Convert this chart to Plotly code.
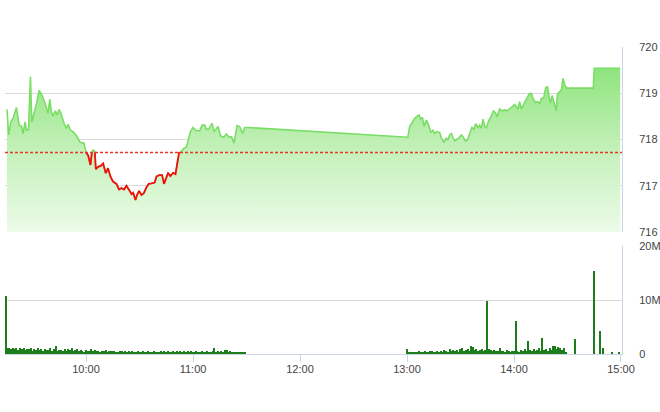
import pandas as pd
import plotly.graph_objects as go

DAY = "2024-01-02 "
REF_PRICE = 717.72

price_times = [
    "09:15:40", "09:16:40", "09:17:50", "09:19:05", "09:21:00", "09:22:30", "09:23:50", "09:24:40",
    "09:25:50", "09:26:35", "09:27:45", "09:28:50", "09:29:35", "09:30:20", "09:32:15", "09:33:40",
    "09:35:00", "09:36:30", "09:37:50", "09:38:45", "09:39:40", "09:40:35", "09:41:30", "09:42:50",
    "09:43:45", "09:44:55", "09:46:15", "09:47:40", "09:49:00", "09:50:00", "09:51:15", "09:52:45",
    "09:54:40", "09:56:30", "09:58:00", "09:58:45", "09:59:50",
    "10:00:25", "10:01:10", "10:02:30", "10:03:15", "10:03:55", "10:04:55", "10:05:30", "10:06:45",
    "10:08:15", "10:09:35", "10:11:05", "10:12:20", "10:13:40", "10:15:10", "10:17:05", "10:18:30",
    "10:19:50", "10:21:20", "10:22:40", "10:24:10", "10:25:30", "10:26:25", "10:27:45", "10:28:35",
    "10:29:45", "10:31:05", "10:32:25", "10:33:55", "10:35:10", "10:36:40", "10:38:30", "10:39:30",
    "10:41:00", "10:42:40", "10:43:45", "10:45:05", "10:46:00", "10:47:20", "10:48:50", "10:50:10",
    "10:51:05", "10:52:10", "10:53:30",
    "10:54:50", "10:56:20", "10:57:25", "10:58:35", "11:00:00", "11:01:55", "11:03:45", "11:05:05",
    "11:06:35", "11:07:30", "11:09:00", "11:10:40", "11:11:50", "11:13:10", "11:14:00", "11:15:25",
    "11:17:15", "11:18:45", "11:20:10", "11:21:35", "11:23:00", "11:24:40", "11:26:10", "11:27:45",
    "11:29:00", "11:30:00",
    "13:00:00", "13:00:30", "13:01:30", "13:02:50", "13:04:20", "13:05:50", "13:06:45", "13:07:40",
    "13:08:40", "13:09:30", "13:10:55", "13:12:10", "13:13:20", "13:14:35", "13:15:30", "13:16:50",
    "13:18:20", "13:19:20", "13:20:45", "13:22:05", "13:23:00", "13:23:55", "13:24:55", "13:25:50",
    "13:26:45", "13:27:50", "13:29:00", "13:30:30", "13:31:25", "13:32:45", "13:33:50", "13:35:10",
    "13:36:25", "13:37:35", "13:38:30", "13:39:50", "13:40:45", "13:41:45", "13:42:35", "13:43:35",
    "13:44:30", "13:45:50", "13:47:20", "13:48:25", "13:49:35", "13:50:30", "13:52:00", "13:53:30",
    "13:54:45", "13:56:05", "13:57:35", "13:59:05", "14:00:25", "14:01:20", "14:02:15", "14:03:10",
    "14:04:10", "14:05:25", "14:06:55", "14:08:25", "14:09:45", "14:10:40", "14:12:00", "14:13:10",
    "14:14:25", "14:15:20", "14:16:40", "14:17:45", "14:18:45", "14:19:40", "14:20:25", "14:21:20",
    "14:22:50", "14:23:45", "14:24:20", "14:25:40", "14:26:35", "14:27:30", "14:28:25", "14:29:45",
    "14:44:30", "14:45:00", "14:59:30",
]
price_values = [
    718.65, 718.10, 718.38, 718.46, 718.69, 718.31, 718.29, 718.12,
    718.38, 718.20, 718.22, 719.36, 718.38, 718.49, 718.78, 719.06,
    718.98, 718.84, 718.70, 718.57, 718.87, 718.60, 718.51, 718.62,
    718.53, 718.65, 718.53, 718.35, 718.24, 718.33, 718.20, 718.17,
    718.08, 717.95, 717.92, 717.93, 717.76,
    717.69, 717.66, 717.45, 717.71, 717.77, 717.74, 717.36, 717.41,
    717.43, 717.48, 717.27, 717.38, 717.20, 717.09, 717.04, 716.92,
    716.95, 716.92, 717.00, 716.91, 716.82, 716.85, 716.69, 716.80,
    716.89, 716.80, 716.84, 716.97, 717.04, 717.05, 717.07, 717.20,
    717.23, 717.23, 717.04, 717.18, 717.27, 717.21, 717.28, 717.25,
    717.48, 717.71, 717.74,
    717.81, 717.84, 717.99, 718.17, 718.26, 718.19, 718.19, 718.31,
    718.31, 718.22, 718.23, 718.35, 718.17, 718.23, 718.28, 718.08,
    718.05, 718.12, 718.05, 718.06, 717.92, 718.30, 718.28, 718.13,
    718.26, 718.26,
    718.05, 718.05, 718.28, 718.38, 718.46, 718.51, 718.53, 718.44,
    718.48, 718.29, 718.42, 718.31, 718.15, 718.20, 718.13, 718.17,
    718.15, 718.03, 717.94, 718.03, 717.99, 718.10, 718.13, 718.03,
    717.97, 718.00, 718.03, 718.10, 718.06, 717.97, 717.99, 718.13,
    718.26, 718.22, 718.34, 718.26, 718.31, 718.24, 718.44, 718.28,
    718.26, 718.41, 718.51, 718.62, 718.58, 718.49, 718.66, 718.62,
    718.64, 718.62, 718.66, 718.71, 718.76, 718.71, 718.66, 718.82,
    718.66, 718.76, 718.89, 718.98, 719.00, 718.89, 718.80, 718.82,
    718.78, 718.89, 718.90, 719.12, 719.14, 718.96, 718.78, 718.95,
    718.76, 718.62, 718.98, 719.03, 719.07, 719.32, 719.18, 719.11,
    719.11, 719.54, 719.54,
]

# Volume (millions of shares), one bar per minute
vol_am_start = "09:15"
vol_am = [
    10.8, 1.1, 1.2, 0.9, 1.2, 1.0, 1.2, 0.8, 1.1, 0.9,
    1.1, 0.7, 1.0, 0.9, 1.2, 0.6, 0.9, 0.8, 1.1, 0.7,
    0.9, 0.6, 1.0, 0.8, 0.7, 1.1, 0.6, 0.9, 1.5, 0.6,
    0.7, 0.8, 0.5, 0.9, 0.6, 1.0, 0.7, 1.1, 0.6, 0.8,
    0.9, 0.5, 0.7, 0.6, 0.4, 0.8, 0.6, 0.5, 0.9, 0.6,
    0.7, 0.5, 0.6, 0.4, 0.6, 0.5, 0.7, 0.4, 0.6, 0.5,
    0.5, 0.6, 0.4, 0.3, 0.5, 0.6, 0.3, 0.5, 0.4, 0.6,
    0.3, 0.5, 0.4, 0.3, 0.6, 0.4, 0.3, 0.5, 0.4, 0.3,
    0.5, 0.3, 0.4, 0.6, 0.3, 0.4, 0.3, 0.5, 0.4, 0.6,
    0.3, 0.5, 0.4, 0.3, 0.6, 0.4, 0.5, 0.3, 0.6, 0.4,
    0.5, 0.4, 0.6, 0.3, 0.5, 0.4, 0.3, 0.5, 0.4, 0.3,
    0.5, 0.4, 0.3, 0.6, 0.4, 0.3, 0.5, 1.2, 0.4, 0.6,
    0.3, 0.5, 0.4, 0.7, 0.8, 0.3, 0.5, 0.3, 0.4, 0.3,
    0.3, 0.2, 0.3, 0.2, 0.3,
]
vol_pm_start = "13:00"
vol_pm = [
    1.0, 0.3, 0.2, 0.3, 0.2, 0.4, 0.3, 0.5, 0.4, 0.3,
    0.6, 0.4, 0.3, 0.5, 0.6, 0.4, 0.3, 0.5, 0.3, 0.6,
    0.4, 0.7, 0.5, 0.3, 0.9, 0.6, 0.8, 0.5, 0.7, 0.4,
    0.9, 1.1, 0.6, 0.8, 1.0, 0.5, 1.5, 1.3, 0.7, 1.0,
    0.6, 0.8, 1.0, 0.5, 0.7, 9.8, 0.9, 0.8, 0.6, 0.7,
    0.5, 0.6, 1.2, 0.5, 0.6, 0.4, 0.7, 0.5, 0.3, 0.6,
    0.5, 6.2, 0.6, 0.4, 0.7, 0.5, 0.9, 0.6, 2.4, 0.8,
    0.6, 1.0, 0.5, 0.8, 1.1, 0.6, 3.0, 0.7, 1.0, 0.6,
    1.2, 0.8, 1.4, 1.5, 0.9, 1.3, 1.1, 0.7, 1.2, 0.4,
]
vol_late_times = ["14:34", "14:45", "14:48", "14:50", "14:55", "14:59"]
vol_late = [2.7, 15.4, 4.3, 1.2, 0.2, 0.3]

price_ticks = [716, 717, 718, 719, 720]
vol_ticks = [0, 10, 20]
vol_tick_text = ["0", "10M", "20M"]
hour_ticks = ["10:00", "11:00", "12:00", "13:00", "14:00", "15:00"]

# ---------- build ----------
ts = [pd.Timestamp(DAY + t) for t in price_times]
n = len(ts)

red_x, red_y = [], []
for i in range(n):
    p = price_values[i]
    if p < REF_PRICE:
        if i > 0 and price_values[i - 1] >= REF_PRICE:
            p0 = price_values[i - 1]
            f = (p0 - REF_PRICE) / (p0 - p)
            red_x.append(ts[i - 1] + (ts[i] - ts[i - 1]) * f)
            red_y.append(REF_PRICE)
        red_x.append(ts[i])
        red_y.append(p)
        if i < n - 1 and price_values[i + 1] >= REF_PRICE:
            p1 = price_values[i + 1]
            f = (REF_PRICE - p) / (p1 - p)
            red_x.append(ts[i] + (ts[i + 1] - ts[i]) * f)
            red_y.append(REF_PRICE)
            red_x.append(None)
            red_y.append(None)

vol_x = (list(pd.date_range(DAY + vol_am_start, periods=len(vol_am), freq="min"))
         + list(pd.date_range(DAY + vol_pm_start, periods=len(vol_pm), freq="min"))
         + [pd.Timestamp(DAY + t) for t in vol_late_times])
vol_y = vol_am + vol_pm + vol_late

x_range = [DAY + "09:14:34", DAY + "15:00:34"]
FONT = "Liberation Sans Narrow, Arial Narrow, Liberation Sans, Arial, sans-serif"
AXIS_BLUE = "#c9d6e6"
GRID = "#d9d9d9"

fig = go.Figure()

fig.add_trace(go.Scatter(
    x=ts, y=price_values, xaxis="x2", yaxis="y2", mode="lines",
    line=dict(color="#7ade66", width=1.6),
    fill="tozeroy",
    fillgradient=dict(type="vertical", start=716, stop=719.6,
                      colorscale=[[0, "rgba(236,251,233,1)"], [0.5, "rgba(196,241,186,1)"],
                                  [1, "rgba(142,228,124,1)"]]),
    hoverinfo="skip", showlegend=False,
))
fig.add_trace(go.Scatter(
    x=red_x, y=red_y, xaxis="x2", yaxis="y2", mode="lines",
    line=dict(color="#f50d0d", width=1.8), connectgaps=False,
    hoverinfo="skip", showlegend=False,
))
fig.add_trace(go.Bar(
    x=vol_x, y=vol_y, xaxis="x", yaxis="y",
    marker=dict(color="#1d7d1d", line=dict(width=0)),
    width=40000, hoverinfo="skip", showlegend=False,
))

fig.add_shape(type="line", xref="x2 domain", yref="y2", x0=0, x1=1,
              y0=REF_PRICE, y1=REF_PRICE,
              line=dict(color="#e8352a", width=1.5, dash="3px,2px"), layer="above")

PRICE_TOP = 1.0
PRICE_BOT = 1 - 185 / 307
VOL_TOP = 108 / 307

fig.update_layout(
    width=660, height=412,
    margin=dict(l=5, r=38, t=47, b=58, autoexpand=False),
    paper_bgcolor="white", plot_bgcolor="white",
    font=dict(family=FONT, size=11, color="#444"),
    bargap=0,
    xaxis=dict(
        type="date", range=x_range, domain=[0, 1], anchor="y", automargin=False,
        tickvals=[DAY + h for h in hour_ticks], ticktext=hour_ticks,
        ticks="outside", ticklen=7, tickcolor=AXIS_BLUE, tickwidth=1, ticklabelstandoff=-2,
        showline=True, linecolor=AXIS_BLUE, linewidth=1,
        showgrid=False, zeroline=False, fixedrange=True,
    ),
    xaxis2=dict(
        type="date", range=x_range, domain=[0, 1], anchor="y2", matches="x", automargin=False,
        showticklabels=False, showgrid=False, zeroline=False, showline=False, ticks="",
    ),
    yaxis=dict(
        domain=[0, VOL_TOP], range=[0, 20], side="right", anchor="x", automargin=False,
        tickvals=vol_ticks, ticktext=vol_tick_text, ticks="", ticklabelstandoff=14,
        showgrid=True, gridcolor=GRID, gridwidth=1,
        showline=True, linecolor=AXIS_BLUE, linewidth=1, zeroline=False,
    ),
    yaxis2=dict(
        domain=[PRICE_BOT, PRICE_TOP], range=[716, 720], side="right", anchor="x2", automargin=False,
        tickvals=price_ticks, ticks="", ticklabelstandoff=14,
        showgrid=True, gridcolor=GRID, gridwidth=1,
        showline=True, linecolor=AXIS_BLUE, linewidth=1, zeroline=False,
    ),
)

fig.write_html(
    "out.html",
    config={"displayModeBar": False},
    post_script="document.body.style.margin='0';document.body.style.overflow='hidden';",
)
